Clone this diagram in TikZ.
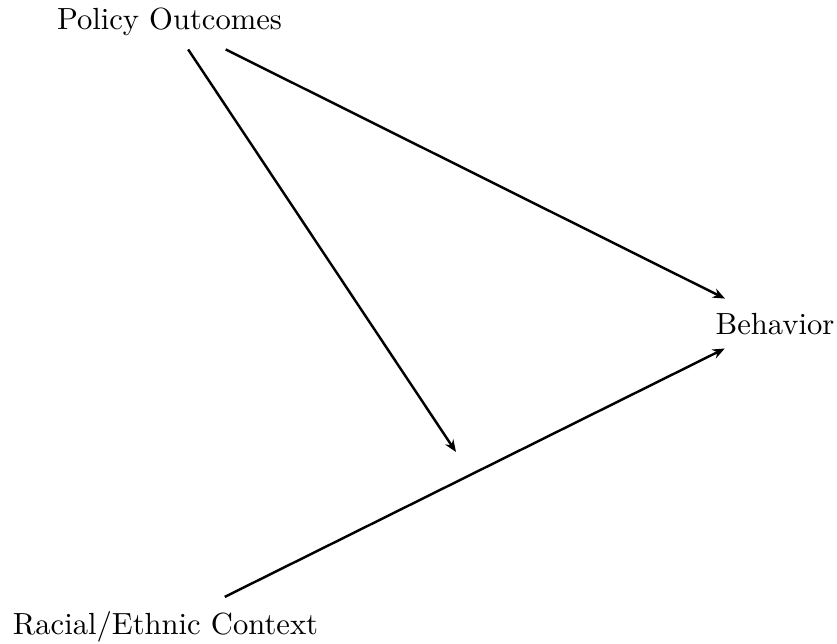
\documentclass[tikz,border=0pt]{standalone}
\usetikzlibrary{arrows.meta}
\begin{document}
\begin{tikzpicture}[x=0.3268pt,y=-0.3268pt,
  lbl/.style={inner sep=3.33pt,outer sep=1.3pt,anchor=base},
  arr/.style={-{Stealth[length=4pt,width=3.2pt]},line width=0.8pt}]
\useasboundingbox (0,0) rectangle (837,643);
\node[lbl] (po) at (169.5,29) {Policy Outcomes};
\node[lbl] (beh) at (775,334) {Behavior};
\node[lbl] (rc) at (165.5,634) {Racial/Ethnic Context};
\coordinate (mid) at (456,452);
\draw[arr] (po) -- (mid);
\draw[arr] (po) -- (beh);
\draw[arr] (rc) -- (beh);
\end{tikzpicture}
\end{document}
